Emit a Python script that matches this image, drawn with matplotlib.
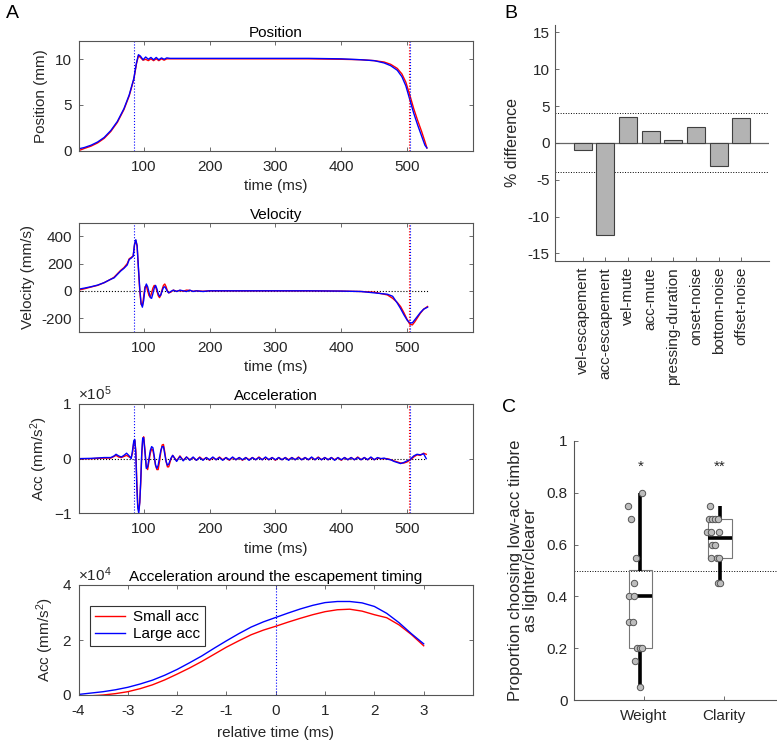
import numpy as np
import matplotlib
matplotlib.use("Agg")
import matplotlib.pyplot as plt

plt.rcParams['font.family'] = ['Liberation Sans', 'DejaVu Sans']
plt.rcParams['font.size'] = 11
plt.rcParams['axes.unicode_minus'] = False
plt.rcParams['mathtext.fontset'] = 'custom'
plt.rcParams['mathtext.rm'] = 'Liberation Sans'
plt.rcParams['mathtext.it'] = 'Liberation Sans'

# ---------------- data ----------------
# A: position (mm)
t_pos = [1, 10, 20, 30, 40, 50, 60, 70, 78, 85, 89, 92, 95, 99, 103, 107, 111, 115, 119, 123,
         127, 131, 135, 140, 150, 200, 250, 300, 350, 400, 430, 450, 465, 475, 485, 492, 498,
         504, 510, 516, 522, 527, 530]
pos_large = [0.2, 0.35, 0.6, 0.95, 1.45, 2.2, 3.2, 4.6, 6.1, 7.9, 9.6, 10.5, 10.35, 9.95, 10.25,
             10.0, 10.2, 9.95, 10.2, 9.95, 10.15, 10.0, 10.15, 10.1, 10.1, 10.1, 10.1, 10.1, 10.1,
             10.05, 9.95, 9.85, 9.6, 9.3, 8.8, 8.1, 7.1, 5.6, 4.1, 2.8, 1.6, 0.6, 0.3]
pos_small = [0.0, 0.25, 0.5, 0.85, 1.35, 2.1, 3.1, 4.5, 6.0, 7.8, 9.5, 10.4, 10.2, 9.9, 10.0,
             9.85, 10.05, 9.85, 10.05, 9.85, 10.05, 9.9, 10.05, 10.05, 10.05, 10.05, 10.05, 10.05,
             10.05, 10.0, 9.95, 9.85, 9.7, 9.45, 9.0, 8.4, 7.5, 6.1, 4.6, 3.3, 2.1, 1.0, 0.3]

# A: velocity (mm/s)
t_vel = [1, 10, 20, 30, 40, 50, 55, 60, 65, 70, 75, 78, 81, 84, 86, 88, 90, 92, 94, 96, 98, 100,
         102, 104, 106, 108, 110, 112, 114, 116, 118, 120, 122, 124, 126, 128, 130, 132, 134, 136,
         138, 141, 145, 150, 155, 160, 165, 170, 175, 180, 190, 200, 250, 300, 350, 400, 430, 450,
         460, 470, 478, 485, 490, 495, 500, 504, 508, 512, 516, 520, 525, 531]
vel_large = [12, 20, 30, 42, 60, 85, 95, 120, 145, 165, 190, 230, 240, 255, 340, 375, 330, 170,
             20, -90, -120, -70, 20, 50, 30, -10, -50, -55, -20, 20, 40, 15, -20, -40, -30, 0, 25,
             30, 15, -5, -15, -5, 5, -5, 5, 0, -5, 5, -5, 0, -5, 0, 0, 0, 0, -2, -5, -15, -20, -25,
             -40, -90, -130, -175, -215, -235, -235, -210, -185, -160, -135, -120]
vel_small = [5, 15, 28, 40, 60, 85, 100, 125, 150, 170, 200, 235, 245, 255, 335, 370, 330, 160,
             0, -100, -110, -40, 30, 35, 0, -35, -45, -15, 20, 40, 30, 0, -35, -50, -30, 10, 40,
             50, 30, 0, -15, -10, 5, -3, 3, -3, 5, 3, -3, 0, -3, 0, 0, 0, 0, -2, -5, -10, -20, -30,
             -55, -85, -115, -160, -210, -245, -250, -225, -195, -165, -135, -115]

# A: acceleration (x1e5 mm/s^2), early / ripple / late segments
t_acc_early = [1, 20, 40, 50, 55, 58, 62, 66, 70, 74, 78, 81, 83, 85, 86.5, 88, 89.5, 91, 92.5,
               94, 95.5, 97, 98.5, 100, 102, 104, 106, 108, 110, 112, 114, 116, 118, 120, 122,
               124, 126, 128, 130, 132, 134, 136, 138, 141, 144]
acc_large_early = [0, 0.005, 0.02, 0.02, 0.05, 0.08, 0.05, 0.03, 0.06, 0.1, 0.05, 0.0, 0.15,
                   0.33, 0.35, 0.1, -0.5, -0.9, -1.0, -0.8, -0.4, 0.1, 0.38, 0.38, 0.1, -0.18,
                   -0.15, 0.0, 0.15, 0.22, 0.2, 0.05, -0.12, -0.18, -0.12, 0.02, 0.15, 0.22, 0.22,
                   0.08, -0.05, -0.12, -0.1, 0.0, 0.06]
acc_small_early = [0, 0.0, 0.01, 0.01, 0.04, 0.06, 0.03, 0.02, 0.04, 0.06, 0.03, 0.02, 0.1, 0.3,
                   0.33, 0.15, -0.4, -0.85, -0.95, -0.8, -0.45, 0.05, 0.35, 0.4, 0.15, -0.15,
                   -0.2, -0.05, 0.1, 0.18, 0.15, 0.02, -0.12, -0.2, -0.2, -0.05, 0.12, 0.25,
                   0.26, 0.12, -0.05, -0.15, -0.15, -0.02, 0.06]
t_acc_mid = np.arange(150, 466, 5)
acc_large_mid = [-0.05, 0.04, -0.04, 0.03, -0.03, 0.03, -0.03, 0.02, -0.03, 0.02,
                 -0.02, 0.03, -0.02, 0.02, -0.03, 0.02, -0.02, 0.03, -0.02, 0.02,
                 -0.02, 0.02, -0.03, 0.02, -0.02, 0.02, -0.02, 0.03, -0.02, 0.02,
                 -0.02, 0.02, -0.02, 0.02, -0.03, 0.02, -0.02, 0.02, -0.02, 0.02,
                 -0.02, 0.03, -0.02, 0.02, -0.02, 0.02, -0.02, 0.02, -0.03, 0.02,
                 -0.02, 0.02, -0.02, 0.02, -0.02, 0.02, -0.02, 0.02, -0.02, 0.03,
                 -0.02, 0.02, 0.0, 0.01]
acc_small_mid = [-0.04, 0.05, -0.03, 0.03, -0.02, 0.02, -0.03, 0.03, -0.02, 0.02,
                 -0.03, 0.02, -0.02, 0.03, -0.02, 0.02, -0.03, 0.02, -0.02, 0.02,
                 -0.03, 0.02, -0.02, 0.02, -0.02, 0.03, -0.02, 0.02, -0.02, 0.02,
                 -0.03, 0.02, -0.02, 0.02, -0.02, 0.02, -0.02, 0.03, -0.02, 0.02,
                 -0.02, 0.02, -0.02, 0.03, -0.02, 0.02, -0.02, 0.02, -0.02, 0.02,
                 -0.03, 0.02, -0.02, 0.02, -0.02, 0.03, -0.02, 0.02, -0.02, 0.02,
                 -0.02, 0.01, 0.0, 0.0]
t_acc_late = [470, 475, 480, 485, 490, 495, 500, 505, 510, 515, 520, 525, 529]
acc_large_late = [-0.01, -0.02, -0.05, -0.07, -0.09, -0.07, -0.04, -0.01, 0.05, 0.08, 0.07,
                  0.09, 0.0]
acc_small_late = [0.0, -0.02, -0.04, -0.06, -0.08, -0.08, -0.06, -0.02, 0.03, 0.07, 0.06, 0.1,
                  0.08]

# A: acceleration around escapement (x1e4 mm/s^2)
t_rel = [-4, -3.75, -3.5, -3.25, -3, -2.75, -2.5, -2.25, -2, -1.75, -1.5, -1.25, -1, -0.75,
         -0.5, -0.25, 0, 0.25, 0.5, 0.75, 1, 1.25, 1.5, 1.75, 2, 2.25, 2.5, 2.75, 3]
esc_large = [0.02, 0.07, 0.12, 0.19, 0.28, 0.40, 0.54, 0.72, 0.93, 1.17, 1.42, 1.70, 1.97, 2.23,
             2.47, 2.66, 2.82, 2.98, 3.13, 3.26, 3.36, 3.40, 3.40, 3.35, 3.22, 2.97, 2.63, 2.23,
             1.86]
esc_small = [-0.07, -0.03, 0.0, 0.05, 0.12, 0.23, 0.37, 0.55, 0.76, 0.98, 1.22, 1.48, 1.74, 1.97,
             2.19, 2.36, 2.50, 2.65, 2.79, 2.92, 3.03, 3.10, 3.12, 3.05, 2.92, 2.81, 2.55, 2.20,
             1.79]

esc_onset = 85
release_small = 503.3
release_large = 504.3

# B: % difference
b_labels = ['vel-escapement', 'acc-escapement', 'vel-mute', 'acc-mute', 'pressing-duration',
            'onset-noise', 'bottom-noise', 'offset-noise']
b_values = [-1.0, -12.45, 3.5, 1.55, 0.35, 2.15, -3.15, 3.4]
b_threshold = 4

# C: proportions
c_groups = ['Weight', 'Clarity']
c_q1 = [0.2, 0.55]
c_median = [0.4, 0.625]
c_q3 = [0.5, 0.7]
c_wlo = [0.05, 0.45]
c_whi = [0.8, 0.75]
weight_vals = [0.80, 0.75, 0.70, 0.55, 0.45, 0.40, 0.40, 0.30, 0.30, 0.20, 0.20, 0.20, 0.15, 0.05]
weight_jit = [0.025, -0.155, -0.121, -0.059, -0.075, -0.142, -0.075, -0.142, -0.092, -0.038,
              0.0, 0.025, -0.067, -0.004]
clarity_vals = [0.75, 0.70, 0.70, 0.70, 0.70, 0.65, 0.65, 0.65, 0.60, 0.60, 0.55, 0.55, 0.55,
                0.45, 0.45]
clarity_jit = [-0.126, -0.142, -0.105, -0.067, -0.029, -0.163, -0.117, -0.013, -0.105, -0.067,
               -0.113, -0.038, -0.008, -0.029, 0.0]
c_stars = ['*', '**']

# ---------------- layout ----------------
W, H = 777, 745
fig = plt.figure(figsize=(W / 100, H / 100), dpi=100)


def rect(l, t, r, b):
    return [l / W, 1 - b / H, (r - l) / W, (b - t) / H]


txt = '#262626'
spine_c = '#555555'


def style(ax, box=True, xpad=6.5, ypad=4.5):
    for s in ax.spines.values():
        s.set_color(spine_c)
        s.set_linewidth(0.8)
    if not box:
        ax.spines['top'].set_visible(False)
        ax.spines['right'].set_visible(False)
    ax.tick_params(direction='in', length=3, width=0.6, color=spine_c, labelcolor=txt,
                   labelsize=11, top=box, right=box)
    ax.tick_params(axis='x', pad=xpad)
    ax.tick_params(axis='y', pad=ypad)


lw = 1.0
ax1 = fig.add_axes(rect(78.5, 41, 473, 150.7))
ax2 = fig.add_axes(rect(78.5, 222.7, 473, 331.7))
ax3 = fig.add_axes(rect(78.5, 404, 473, 513.3))
ax4 = fig.add_axes(rect(78.5, 585, 473, 695))

# position
ax1.plot(t_pos, pos_small, color='r', lw=lw)
ax1.plot(t_pos, pos_large, color='b', lw=lw)
ax1.set_ylim(0, 12)
ax1.set_yticks([0, 5, 10])
ax1.set_title('Position', fontsize=11, pad=3)
ax1.set_ylabel('Position (mm)', color=txt)

# velocity
ax2.plot([t_vel[0], t_vel[-1]], [0, 0], 'k:', lw=0.8)
ax2.plot(t_vel, vel_small, color='r', lw=lw)
ax2.plot(t_vel, vel_large, color='b', lw=lw)
ax2.set_ylim(-300, 500)
ax2.set_yticks([-200, 0, 200, 400])
ax2.set_title('Velocity', fontsize=11, pad=3)
ax2.set_ylabel('Velocity (mm/s)', color=txt)

# acceleration
t_acc = np.concatenate([t_acc_early, t_acc_mid, t_acc_late])
acc_small = np.concatenate([acc_small_early, acc_small_mid, acc_small_late]) * 1e5
acc_large = np.concatenate([acc_large_early, acc_large_mid, acc_large_late]) * 1e5
ax3.plot([t_acc[0], t_acc[-1]], [0, 0], 'k:', lw=0.8)
ax3.plot(t_acc, acc_small, color='r', lw=lw)
ax3.plot(t_acc, acc_large, color='b', lw=lw)
ax3.set_ylim(-1e5, 1e5)
ax3.set_yticks([-1e5, 0, 1e5])
ax3.set_title('Acceleration', fontsize=11, pad=3)
ax3.set_ylabel('Acc (mm/s$^2$)', color=txt)

for ax in (ax1, ax2, ax3):
    ax.set_xlim(1, 600)
    ax.set_xticks([100, 200, 300, 400, 500])
    ax.set_xlabel('time (ms)', color=txt, labelpad=4)
    ax.axvline(esc_onset, color='b', ls=':', lw=0.8)
    ax.axvline(release_small, color='r', ls=':', lw=0.8)
    ax.axvline(release_large, color='b', ls=':', lw=0.8)
    style(ax)

ax1.yaxis.set_label_coords(-0.077, 0.5)
ax2.yaxis.set_label_coords(-0.11, 0.5)
ax3.yaxis.set_label_coords(-0.073, 0.5)

# acceleration around escapement
esc_s = np.array(esc_small) * 1e4
esc_l = np.array(esc_large) * 1e4
ax4.axvline(0, color='b', ls=':', lw=0.8)
ax4.plot(t_rel, esc_s, color='r', lw=lw, label='Small acc')
ax4.plot(t_rel, esc_l, color='b', lw=lw, label='Large acc')
ax4.set_xlim(-4, 4)
ax4.set_xticks([-4, -3, -2, -1, 0, 1, 2, 3])
ax4.set_ylim(0, 4e4)
ax4.set_yticks([0, 2e4, 4e4])
ax4.set_title('Acceleration around the escapement timing', fontsize=11, pad=3)
ax4.set_xlabel('relative time (ms)', color=txt, labelpad=6)
ax4.set_ylabel('Acc (mm/s$^2$)', color=txt)
ax4.yaxis.set_label_coords(-0.058, 0.5)
leg = ax4.legend(loc='upper left', bbox_to_anchor=(0.01, 0.88), fontsize=11, fancybox=False,
                 framealpha=1, edgecolor='#333333', handlelength=2.0, borderpad=0.3,
                 labelspacing=0.2, handletextpad=0.5)
leg.get_frame().set_linewidth(0.8)
style(ax4)

for ax in (ax3, ax4):
    ax.ticklabel_format(axis='y', style='sci', scilimits=(0, 0), useMathText=True)
    ax.yaxis.get_offset_text().set_color(txt)
    ax.yaxis.get_offset_text().set_fontsize(11)

# ---------------- B ----------------
axB = fig.add_axes(rect(555, 25, 769, 260.7))
xb = np.arange(1, len(b_values) + 1)
axB.axhline(0, color='#666666', lw=0.9, zorder=1)
axB.axhline(b_threshold, color='k', ls=':', lw=0.7, zorder=1)
axB.axhline(-b_threshold, color='k', ls=':', lw=0.7, zorder=1)
axB.bar(xb, b_values, width=0.8, color='#b3b3b3', edgecolor='#404040', lw=0.8, zorder=2)
axB.set_xlim(-0.22, 9.22)
axB.set_ylim(-16, 16)
axB.set_yticks([-15, -10, -5, 0, 5, 10, 15])
axB.set_xticks(xb)
axB.set_xticklabels(b_labels, rotation=90)
axB.set_ylabel('% difference', color=txt, fontsize=11.5)
axB.yaxis.set_label_coords(-0.164, 0.5)
style(axB, box=False, xpad=4.5, ypad=4)

# ---------------- C ----------------
axC = fig.add_axes(rect(574, 441, 777, 700))
xc = np.arange(1, len(c_groups) + 1)
shift = -0.045
bw = 0.29
axC.axhline(0.5, color='k', ls=':', lw=0.7, zorder=1)
for i, x in enumerate(xc):
    cx = x + shift
    axC.add_patch(plt.Rectangle((cx - bw / 2, c_q1[i]), bw, c_q3[i] - c_q1[i], fill=False,
                                edgecolor='#777777', lw=0.8, zorder=2))
    axC.plot([cx, cx], [c_wlo[i], c_q1[i]], color='k', lw=2.6, zorder=3, solid_capstyle='butt')
    axC.plot([cx, cx], [c_q3[i], c_whi[i]], color='k', lw=2.6, zorder=3, solid_capstyle='butt')
    axC.plot([cx - bw / 2, cx + bw / 2], [c_median[i]] * 2, color='k', lw=2.6, zorder=3,
             solid_capstyle='butt')
    axC.text(x + shift, 0.9, c_stars[i], ha='center', va='center', fontsize=11, color=txt)
axC.plot(1 + shift + np.array(weight_jit), weight_vals, 'o', ms=4.6, mfc='#bdbdbd',
         mec='#555555', mew=0.7, zorder=4)
axC.plot(2 + shift + np.array(clarity_jit), clarity_vals, 'o', ms=4.6, mfc='#bdbdbd',
         mec='#555555', mew=0.7, zorder=4)
axC.set_xlim(0.124, 2.67)
axC.set_ylim(0, 1)
axC.set_yticks([0, 0.2, 0.4, 0.6, 0.8, 1])
axC.set_yticklabels(['0', '0.2', '0.4', '0.6', '0.8', '1'])
axC.set_xticks(xc)
axC.set_xticklabels(c_groups)
axC.set_ylabel('Proportion choosing low-acc timbre\nas lighter/clearer', color=txt,
               linespacing=1.0, fontsize=12)
axC.yaxis.set_label_coords(-0.177, 0.5)
style(axC, box=False, xpad=6.5, ypad=4.5)

# panel letters
fig.text(6 / W, 1 - 14 / H, 'A', fontsize=14, va='center', ha='left')
fig.text(504 / W, 1 - 14 / H, 'B', fontsize=14, va='center', ha='left')
fig.text(502 / W, 1 - 408 / H, 'C', fontsize=14, va='center', ha='left')

fig.savefig('out.png', dpi=100)
